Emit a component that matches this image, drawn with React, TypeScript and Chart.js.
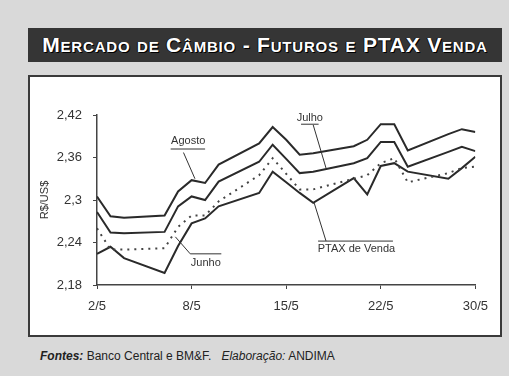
import React, { useEffect, useRef } from "react";
import { Chart, registerables } from "chart.js";

Chart.register(...registerables);

// Business days of May (day of month)
const days = [2, 3, 4, 7, 8, 9, 10, 11, 14, 15, 16, 17, 18, 21, 22, 23, 24, 25, 28, 29, 30];

const agosto = [2.305, 2.277, 2.275, 2.278, 2.312, 2.328, 2.324, 2.35, 2.38, 2.403, 2.385, 2.364, 2.366, 2.376, 2.385, 2.407, 2.407, 2.37, 2.393, 2.4, 2.396];
const julho = [2.283, 2.254, 2.253, 2.255, 2.291, 2.305, 2.3, 2.326, 2.354, 2.378, 2.358, 2.338, 2.34, 2.352, 2.359, 2.382, 2.382, 2.347, 2.368, 2.375, 2.369];
const junho = [2.26, 2.23, 2.23, 2.232, 2.262, 2.278, 2.278, 2.298, 2.335, 2.359, 2.337, 2.315, 2.315, 2.33, 2.335, 2.352, 2.359, 2.325, 2.338, 2.345, 2.347];
const ptax = [2.224, 2.234, 2.218, 2.197, 2.235, 2.267, 2.274, 2.291, 2.31, 2.34, 2.325, 2.31, 2.296, 2.331, 2.308, 2.348, 2.352, 2.34, 2.33, 2.345, 2.361];

const xTickDays = [2, 9, 16, 23, 30];
const xTickLabels = ["2/5", "8/5", "15/5", "22/5", "30/5"];
const yTickValues = [2.18, 2.24, 2.3, 2.36, 2.42];
const yTickLabels = ["2,18", "2,24", "2,3", "2,36", "2,42"];

// Callout labels in data coordinates: text centre, rule (x1, x2, y), leader (x1, y1, x2, y2)
const callouts = [
  { text: "Agosto", tx: 8.75, ty: 2.383, rule: [7.45, 10.0, 2.372], leader: [8.4, 2.367, 9.25, 2.33] },
  { text: "Julho", tx: 17.75, ty: 2.416, rule: [17.1, 18.4, 2.407], leader: [18.0, 2.406, 18.95, 2.345] },
  { text: "Junho", tx: 10.05, ty: 2.211, rule: [8.9, 11.2, 2.224], leader: [7.8, 2.248, 8.9, 2.224] },
  { text: "PTAX de Venda", tx: 21.2, ty: 2.231, rule: [18.36, 23.9, 2.242], leader: [18.07, 2.296, 18.95, 2.242] },
];

const FONT = "'Liberation Sans', Arial, Helvetica, sans-serif";
const INK = "#2a2a2a";

const calloutPlugin = {
  id: "callouts",
  afterDatasetsDraw(chart: any) {
    const { ctx } = chart;
    const xs = chart.scales.x;
    const ys = chart.scales.y;
    ctx.save();
    ctx.fillStyle = "#333";
    ctx.strokeStyle = "#333";
    ctx.lineWidth = 1;
    ctx.font = `11px ${FONT}`;
    ctx.textAlign = "center";
    ctx.textBaseline = "middle";
    for (const c of callouts) {
      ctx.fillText(c.text, xs.getPixelForValue(c.tx), ys.getPixelForValue(c.ty));
      ctx.beginPath();
      ctx.moveTo(xs.getPixelForValue(c.rule[0]), ys.getPixelForValue(c.rule[2]));
      ctx.lineTo(xs.getPixelForValue(c.rule[1]), ys.getPixelForValue(c.rule[2]));
      ctx.stroke();
      ctx.beginPath();
      ctx.moveTo(xs.getPixelForValue(c.leader[0]), ys.getPixelForValue(c.leader[1]));
      ctx.lineTo(xs.getPixelForValue(c.leader[2]), ys.getPixelForValue(c.leader[3]));
      ctx.stroke();
    }
    ctx.restore();
  },
};

function toPoints(vals: number[]) {
  return days.map((d, i) => ({ x: d, y: vals[i] }));
}

function ChartCanvas() {
  const ref = useRef<HTMLCanvasElement | null>(null);
  useEffect(() => {
    if (!ref.current) return;
    const line = (data: number[], dash: number[] = [], color = INK) => ({
      data: toPoints(data),
      borderColor: color,
      borderWidth: 2,
      borderDash: dash,
      pointRadius: 0,
      tension: 0,
      fill: false,
    });
    const chart = new Chart(ref.current, {
      type: "line",
      data: {
        datasets: [
          { label: "Agosto", ...line(agosto) },
          { label: "Julho", ...line(julho) },
          { label: "Junho", ...line(junho, [2, 5], "#444") },
          { label: "PTAX de Venda", ...line(ptax) },
        ],
      },
      options: {
        responsive: false,
        animation: false,
        devicePixelRatio: 1,
        layout: { padding: { left: 0, right: 16, top: 38, bottom: 0 } },
        plugins: { legend: { display: false }, tooltip: { enabled: false } },
        scales: {
          x: {
            type: "linear",
            min: 2,
            max: 30,
            afterBuildTicks: (s: any) => {
              s.ticks = xTickDays.map((v) => ({ value: v }));
            },
            afterFit: (s: any) => {
              s.height = 50;
            },
            ticks: {
              autoSkip: false,
              maxRotation: 0,
              padding: 10,
              color: "#333",
              font: { family: FONT, size: 13 },
              callback: (v: any) => xTickLabels[xTickDays.indexOf(v)],
            },
            grid: { drawOnChartArea: false, drawTicks: true, tickLength: 4, color: "#444" },
            border: { display: true, color: "#444", width: 1.5 },
          },
          y: {
            type: "linear",
            min: 2.18,
            max: 2.42,
            afterBuildTicks: (s: any) => {
              s.ticks = yTickValues.map((v) => ({ value: v }));
            },
            afterFit: (s: any) => {
              s.width = 67;
            },
            ticks: {
              padding: 11,
              color: "#333",
              font: { family: FONT, size: 13 },
              callback: (v: any, i: number) => yTickLabels[i],
            },
            grid: { drawOnChartArea: false, drawTicks: true, tickLength: 4, color: "#444" },
            border: { display: true, color: "#444", width: 1.5 },
            title: {
              display: true,
              text: "R$/US$",
              color: "#333",
              font: { family: FONT, size: 11 },
              padding: { top: 8, bottom: 0 },
            },
          },
        },
      },
      plugins: [calloutPlugin],
    } as any);
    return () => chart.destroy();
  }, []);
  return (
    <canvas
      ref={ref}
      width={468}
      height={258}
      style={{ position: "absolute", left: 30, top: 77, width: 468, height: 258 }}
    />
  );
}

export default function App() {
  return (
    <div
      style={{
        position: "absolute",
        left: 0,
        top: 0,
        width: 509,
        height: 376,
        background: "#d9d9d9",
        overflow: "hidden",
        fontFamily: FONT,
      }}
    >
      <div
        style={{
          position: "absolute",
          left: 28,
          top: 28,
          width: 474,
          height: 34,
          background: "#353535",
          color: "#fff",
          display: "flex",
          alignItems: "center",
          justifyContent: "center",
          fontWeight: "bold",
          fontVariant: "small-caps",
          fontSize: 21,
          letterSpacing: 0.8,
          textShadow: "1px 1px 0 #000, -1px 0 0 #111",
          whiteSpace: "nowrap",
        }}
      >
        Mercado de Câmbio - Futuros e PTAX Venda
      </div>
      <div
        style={{
          position: "absolute",
          left: 28,
          top: 75,
          width: 470,
          height: 258,
          background: "#fff",
          border: "2px solid #3a3a3a",
        }}
      />
      <ChartCanvas />
      <div
        style={{
          position: "absolute",
          left: 40,
          top: 349,
          fontSize: 12,
          color: "#222",
          whiteSpace: "nowrap",
        }}
      >
        <span style={{ fontWeight: "bold", fontStyle: "italic" }}>Fontes:</span> Banco Central e BM&amp;F.
        <span style={{ fontStyle: "italic", marginLeft: 10 }}>Elaboração:</span> ANDIMA
      </div>
    </div>
  );
}
